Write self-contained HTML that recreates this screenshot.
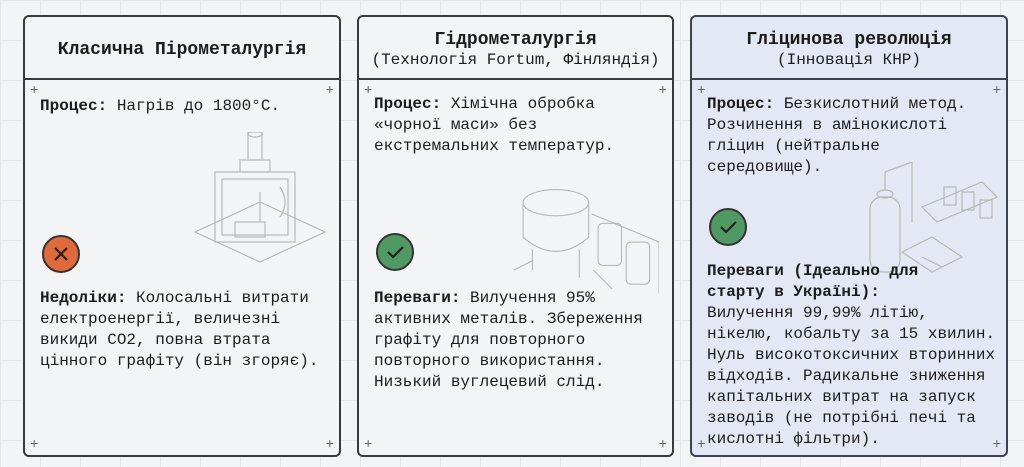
<!DOCTYPE html>
<html><head><meta charset="utf-8"><style>
body{margin:0;width:1024px;height:467px;overflow:hidden;background:#f3f4f6;
background-image:linear-gradient(#e4e6ea 1px,transparent 1px),linear-gradient(90deg,#e4e6ea 1px,transparent 1px);background-size:40px 40px;
font-family:"Liberation Mono","DejaVu Sans Mono",monospace;color:#1c1c1c;position:relative}
.card{position:absolute;top:15px;height:442px;border:2px solid #3a3a3a;border-radius:6px;background:#f3f4f6;box-sizing:border-box}
.card.blue{background:#e3e8f4;border-color:#3c4250}
.hd{height:63px;border-bottom:2px solid #3a3a3a;text-align:center;box-sizing:border-box}
.hd b{font-size:18px;display:block}
.hd span{font-size:16px;display:block;line-height:20px}
.t{position:absolute;font-size:16px;line-height:21px;white-space:pre}
.plus{position:absolute;font-size:14px;color:#666;line-height:10px}
.ic{position:absolute;width:38px;height:38px;border-radius:50%;border:2px solid #333;box-sizing:border-box}
svg{position:absolute}
</style></head><body>

<div class="card" style="left:23px;width:318px">
 <div class="hd"><b style="padding-top:23px">Класична Пірометалургія</b></div>
 <div class="plus" style="left:5px;top:69px">+</div><div class="plus" style="right:5px;top:69px">+</div>
 <div class="plus" style="left:5px;top:423px">+</div><div class="plus" style="right:5px;top:423px">+</div>
 <div class="t" style="left:15px;top:79px"><b>Процес:</b> Нагрів до 1800°C.</div>
 <svg style="left:165px;top:115px" width="140" height="135" viewBox="0 0 140 135" fill="none" stroke="#b8b8b8" stroke-width="1.2">
  <path d="M5 100 L70 70 L135 100 L70 130 Z"/>
  <rect x="25" y="40" width="80" height="70"/><rect x="32" y="47" width="66" height="56"/>
  <rect x="50" y="28" width="30" height="12"/><rect x="58" y="0" width="14" height="28"/><ellipse cx="65" cy="2" rx="7" ry="3"/>
  <rect x="45" y="90" width="30" height="15"/><path d="M70 60 L70 90 M90 55 Q100 70 90 85"/>
 </svg>
 <div class="ic" style="left:17px;top:218px;background:#e06a3a"><svg width="34" height="34" style="left:0;top:0"><path d="M11 11L23 23M23 11L11 23" stroke="#222" stroke-width="2.2"/></svg></div>
 <div class="t" style="left:15px;top:271px"><b>Недоліки:</b> Колосальні витрати
електроенергії, величезні
викиди CO2, повна втрата
цінного графіту (він згоряє).</div>
</div>

<div class="card" style="left:357px;width:317px">
 <div class="hd"><b style="padding-top:13px">Гідрометалургія</b><span>(Технологія Fortum, Фінляндія)</span></div>
 <div class="plus" style="left:5px;top:69px">+</div><div class="plus" style="right:5px;top:69px">+</div>
 <div class="plus" style="left:5px;top:423px">+</div><div class="plus" style="right:5px;top:423px">+</div>
 <div class="t" style="left:15px;top:77px"><b>Процес:</b> Хімічна обробка
«чорної маси» без
екстремальних температур.</div>
 <svg style="left:150px;top:165px" width="150" height="120" viewBox="0 0 160 120" fill="none" stroke="#b8b8b8" stroke-width="1.2">
  <ellipse cx="50" cy="18" rx="35" ry="14"/><path d="M15 18 L15 55 Q50 85 85 55 L85 18"/>
  <path d="M25 68 L25 90 M75 68 L75 98 M5 90 L25 80"/>
  <rect x="95" y="40" width="25" height="45" rx="5"/><rect x="125" y="60" width="25" height="45" rx="5"/>
  <path d="M88 30 L160 60 L160 115 M90 90 L110 110"/>
 </svg>
 <div class="ic" style="left:17px;top:216px;background:#4e9a62"><svg width="34" height="34" style="left:0;top:0"><path d="M10 17L15 22L25 12" fill="none" stroke="#222" stroke-width="2.2"/></svg></div>
 <div class="t" style="left:15px;top:271px"><b>Переваги:</b> Вилучення 95%
активних металів. Збереження
графіту для повторного
повторного використання.
Низький вуглецевий слід.</div>
</div>

<div class="card blue" style="left:690px;width:318px">
 <div class="hd" style="border-color:#3c4250"><b style="padding-top:13px">Гліцинова революція</b><span>(Інновація КНР)</span></div>
 <div class="plus" style="left:5px;top:69px">+</div><div class="plus" style="right:5px;top:69px">+</div>
 <div class="plus" style="left:5px;top:423px">+</div><div class="plus" style="right:5px;top:423px">+</div>
 <div class="t" style="left:15px;top:77px"><b>Процес:</b> Безкислотний метод.
Розчинення в амінокислоті
гліцин (нейтральне
середовище).</div>
 <svg style="left:170px;top:145px" width="140" height="125" viewBox="0 0 140 125" fill="none" stroke="#b8b8b8" stroke-width="1.2">
  <rect x="8" y="35" width="30" height="75" rx="12"/><ellipse cx="23" cy="32" rx="8" ry="4"/>
  <path d="M23 28 L23 10 L50 0 L50 60 M60 45 L120 20 L135 35 L75 60 Z"/>
  <rect x="82" y="25" width="12" height="18"/><rect x="100" y="30" width="12" height="18"/><rect x="118" y="38" width="12" height="18"/>
  <path d="M40 90 L70 75 L100 95 L70 110 Z M60 95 L80 105"/>
 </svg>
 <div class="ic" style="left:17px;top:191px;background:#4e9a62"><svg width="34" height="34" style="left:0;top:0"><path d="M10 17L15 22L25 12" fill="none" stroke="#222" stroke-width="2.2"/></svg></div>
 <div class="t" style="left:15px;top:244px"><b>Переваги (Ідеально для
старту в Україні):</b>
Вилучення 99,99% літію,
нікелю, кобальту за 15 хвилин.
Нуль високотоксичних вторинних
відходів. Радикальне зниження
капітальних витрат на запуск
заводів (не потрібні печі та
кислотні фільтри).</div>
</div>
</body></html>
